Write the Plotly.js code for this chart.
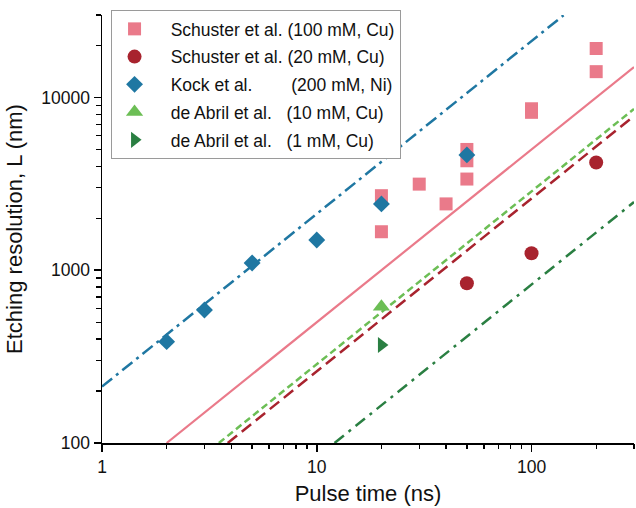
<!DOCTYPE html>
<html>
<head>
<meta charset="utf-8">
<script src="https://cdn.plot.ly/plotly-3.0.1.min.js"></script>
<style>html,body{margin:0;padding:0;background:#fff;}#chart{width:636px;height:508px;}</style>
</head>
<body>
<div id="chart"></div>
<script>
// ---- data ----
const schuster100T = [20, 20, 30, 40, 50, 50, 50, 100, 100, 200, 200];
const schuster100L = [2700, 1670, 3150, 2420, 5000, 4300, 3370, 8600, 8200, 19200, 14100];
const schuster20T = [50, 100, 200];
const schuster20L = [841, 1254, 4200];
const kockT = [2, 3, 5, 10, 20, 50];
const kockL = [386, 589, 1102, 1497, 2420, 4650];
const abril10T = [20];
const abril10L = [615];
const abril1T = [20];
const abril1L = [369];

// fitted guide lines (end points)
const kockFitT = [1, 141];
const kockFitL = [212, 29900];
const schuster100FitT = [2, 300];
const schuster100FitL = [100, 15000];
const abril10FitT = [3.5, 300];
const abril10FitL = [100, 8580];
const schuster20FitT = [3.85, 300];
const schuster20FitL = [100, 7800];
const abril1FitT = [12.1, 300];
const abril1FitL = [100, 2480];

// axis tick positions
const xMajor = [1, 10, 100];
const xMinor = [2, 3, 4, 5, 6, 7, 8, 9, 20, 30, 40, 50, 60, 70, 80, 90, 200, 300];
const yMajor = [100, 1000, 10000];
const yMinor = [200, 300, 400, 500, 600, 700, 800, 900, 2000, 3000, 4000, 5000, 6000, 7000, 8000, 9000, 20000, 30000];

const lead = '\u2002\u00a0';
const names = [
  lead + 'Schuster et al. (100 mM, Cu)',
  lead + 'Schuster et al. (20 mM, Cu)',
  lead + 'Kock et al.\u00a0\u00a0\u00a0\u00a0\u00a0\u00a0\u00a0\u00a0(200 mM, Ni)',
  lead + 'de Abril et al.\u00a0\u00a0\u00a0(10 mM, Cu)',
  lead + 'de Abril et al.\u00a0\u00a0\u00a0(1 mM, Cu)'
];

const cPink = '#EA7A8A';
const cRed = '#A8232E';
const cBlue = '#1F77A2';
const cLGreen = '#6CBE55';
const cDGreen = '#2A7F42';

function fitLine(x, y, color, dash, w, grp) {
  return {x: x, y: y, type: 'scatter', mode: 'lines', showlegend: false, hoverinfo: 'skip',
    legendgroup: grp, line: {color: color, width: w, dash: dash}};
}
function pts(x, y, name, color, symbol, size, grp) {
  return {x: x, y: y, type: 'scatter', mode: 'markers', name: name, legendgroup: grp,
    marker: {color: color, symbol: symbol, size: size, line: {width: 0}}};
}

const xRange = [0, Math.log10(300)];
const yRange = [2, Math.log10(30000)];

const traces = [
  fitLine(schuster100FitT, schuster100FitL, cPink, 'solid', 2.2, 'a'),
  fitLine(schuster20FitT, schuster20FitL, cRed, '12px,6px', 2.5, 'b'),
  fitLine(kockFitT, kockFitL, cBlue, '13px,5px,3px,5px', 2.5, 'c'),
  fitLine(abril10FitT, abril10FitL, cLGreen, '7px,4px', 2.5, 'd'),
  fitLine(abril1FitT, abril1FitL, cDGreen, '12px,6px,3px,6px', 2.5, 'e'),
  pts(schuster100T, schuster100L, names[0], cPink, 'square', 13, 'a'),
  pts(schuster20T, schuster20L, names[1], cRed, 'circle', 14, 'b'),
  pts(kockT, kockL, names[2], cBlue, 'diamond', 13, 'c'),
  pts(abril10T, abril10L, names[3], cLGreen, 'triangle-up', 15, 'd'),
  pts(abril1T, abril1L, names[4], cDGreen, 'triangle-right', 14, 'e'),
  // invisible helper trace so the minor-tick overlay axes are drawn
  {x: [xMajor[1]], y: [yMajor[1]], type: 'scatter', mode: 'markers', xaxis: 'x2', yaxis: 'y2',
    marker: {opacity: 0, size: 1}, showlegend: false, hoverinfo: 'skip'}
];

function axis(major, rng, title, standoff) {
  return {
    type: 'log', range: rng, showgrid: false, zeroline: false, showline: true,
    linecolor: '#000', linewidth: 1.5, mirror: false,
    ticks: 'outside', ticklen: 7, tickwidth: 1.5, tickcolor: '#000',
    tickmode: 'array', tickvals: major, ticktext: major.map(String),
    tickfont: {size: 17.5, color: '#111'},
    title: {text: title, font: {size: 22}, standoff: standoff}
  };
}
function minorAxis(minor, rng, overlay, anchor, side) {
  return {
    type: 'log', range: rng, overlaying: overlay, anchor: anchor, side: side,
    showgrid: false, zeroline: false, showline: false, showticklabels: false,
    ticks: 'outside', ticklen: 5, tickwidth: 1.3, tickcolor: '#000',
    tickmode: 'array', tickvals: minor, ticktext: minor.map(() => '')
  };
}

const layout = {
  width: 636, height: 508,
  margin: {l: 102, r: 2, t: 15, b: 65},
  paper_bgcolor: '#fff', plot_bgcolor: '#fff',
  font: {family: 'Liberation Sans, Arial, sans-serif', color: '#111'},
  xaxis: axis(xMajor, xRange, 'Pulse time (ns)', 10),
  yaxis: axis(yMajor, yRange, 'Etching resolution, L (nm)', 12),
  xaxis2: minorAxis(xMinor, xRange, 'x', 'y2', 'bottom'),
  yaxis2: minorAxis(yMinor, yRange, 'y', 'x2', 'left'),
  legend: {
    x: 0.017, y: 1.0117, xanchor: 'left', yanchor: 'top',
    bgcolor: '#fff', bordercolor: '#9a9a9a', borderwidth: 1,
    font: {size: 17.5, color: '#111'}, itemwidth: 35,
    traceorder: 'grouped', tracegroupgap: 2
  },
  showlegend: true
};

Plotly.newPlot('chart', traces, layout, {displayModeBar: false, staticPlot: true});
</script>
</body>
</html>
